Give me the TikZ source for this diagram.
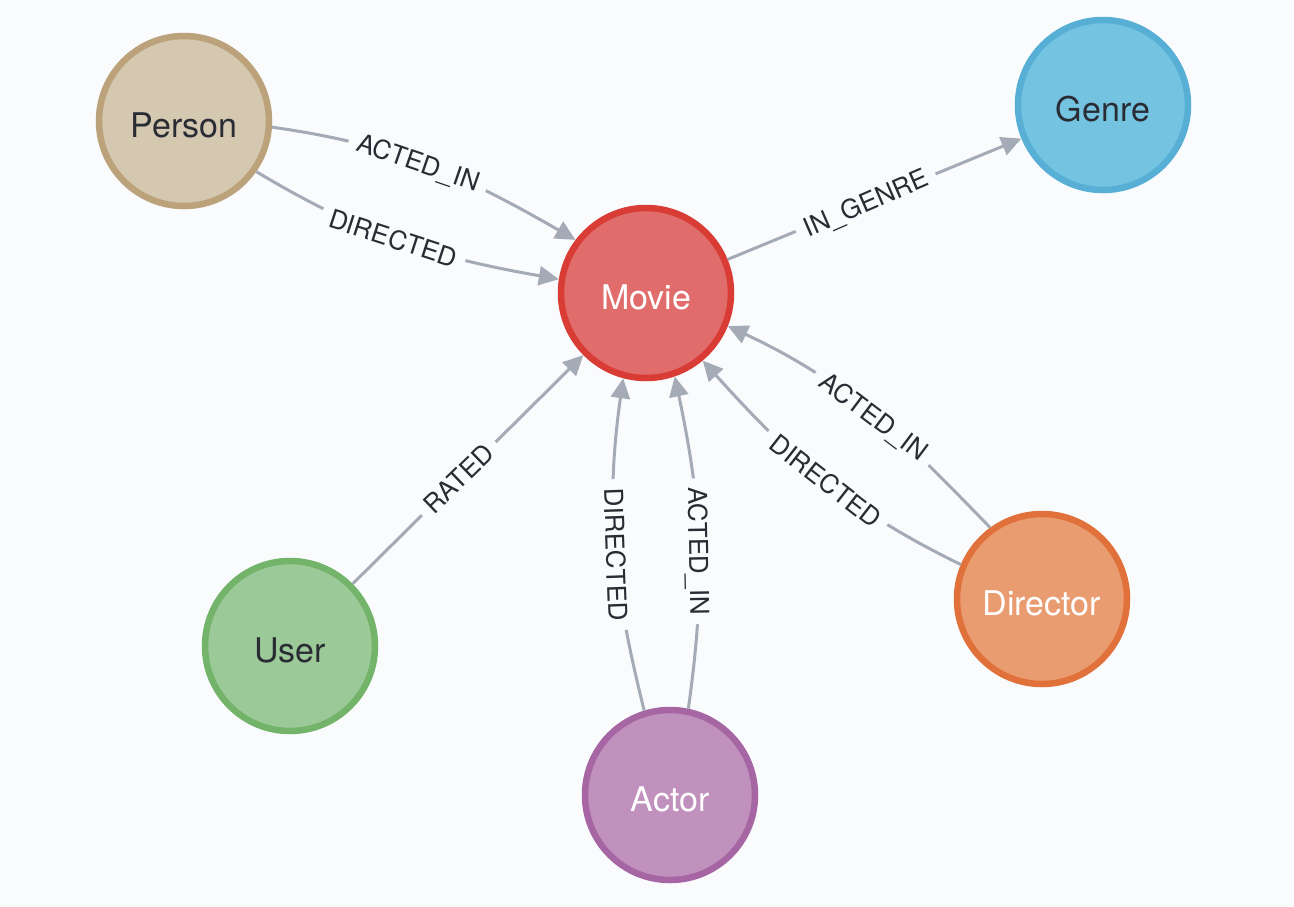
\documentclass[tikz,border=0pt]{standalone}
\usepackage{fontspec}
\setmainfont{TeX Gyre Heros}
\usetikzlibrary{arrows.meta}
\definecolor{bgc}{HTML}{F9FBFD}
\definecolor{edgec}{HTML}{A5ABB6}
\definecolor{txt}{HTML}{2A2C34}
\definecolor{personF}{HTML}{D5C8B0}\definecolor{personS}{HTML}{BBA27A}
\definecolor{movieF}{HTML}{E06D6B}\definecolor{movieS}{HTML}{D93B35}
\definecolor{genreF}{HTML}{74C3E0}\definecolor{genreS}{HTML}{57AFD5}
\definecolor{userF}{HTML}{9BC998}\definecolor{userS}{HTML}{73B36A}
\definecolor{actorF}{HTML}{C191BE}\definecolor{actorS}{HTML}{A665A3}
\definecolor{dirF}{HTML}{EA9C71}\definecolor{dirS}{HTML}{E0713A}
\begin{document}
\begin{tikzpicture}[x=1pt,y=1pt,
  ent/.style={circle, minimum size=170pt, inner sep=0pt, line width=6.5pt,
    font=\fontsize{34}{40}\selectfont, text height=33.5pt, text depth=0pt},
  rel/.style={draw=edgec, line width=3pt, -{Triangle[length=20pt,width=19pt]}},
  lab/.style={fill=bgc, text=txt, inner xsep=9pt, inner ysep=1pt,
    font=\fontsize{26}{30}\selectfont, text height=18.7pt, text depth=0pt}]
\fill[bgc] (0,0) rectangle (1294,-906);
\useasboundingbox (0,0) rectangle (1294,-906);

\node[ent, fill=personF, draw=personS, text=txt] (person) at (184,-121) {Person};
\node[ent, fill=movieF, draw=movieS, text=white] (movie) at (646,-293) {Movie};
\node[ent, fill=genreF, draw=genreS, text=txt] (genre) at (1103,-105) {Genre};
\node[ent, fill=userF, draw=userS, text=txt] (user) at (290,-646) {User};
\node[ent, fill=actorF, draw=actorS, text=white] (actor) at (670,-795) {Actor};
\node[ent, fill=dirF, draw=dirS, text=white] (director) at (1042,-599) {Director};

\draw[rel] (person.-4.5) to[out=-8,in=150]
  node[lab, pos=0.46, rotate=-19] {ACTED\_IN} (movie.143);
\draw[rel] (person.-35) to[out=-31,in=170]
  node[lab, pos=0.47, rotate=-18] {DIRECTED} (movie.171);
\draw[rel] (movie) -- node[lab, pos=0.47, rotate=23.5] {IN\_GENRE} (genre);
\draw[rel] (user) -- node[lab, pos=0.46, rotate=44] {RATED} (movie);
\draw[rel] (actor.107) to[out=104,in=-98]
  node[lab, pos=0.47, rotate=-88] {DIRECTED} (movie.-105);
\draw[rel] (actor.78) to[out=82,in=-78]
  node[lab, pos=0.47, rotate=-89] {ACTED\_IN} (movie.-71);
\draw[rel] (director.126) to[out=134,in=-25]
  node[lab, pos=0.48, rotate=-37] {ACTED\_IN} (movie.-22);
\draw[rel] (director.157.5) to[out=154,in=-48]
  node[lab, pos=0.48, rotate=-38] {DIRECTED} (movie.-50);
\end{tikzpicture}
\end{document}
